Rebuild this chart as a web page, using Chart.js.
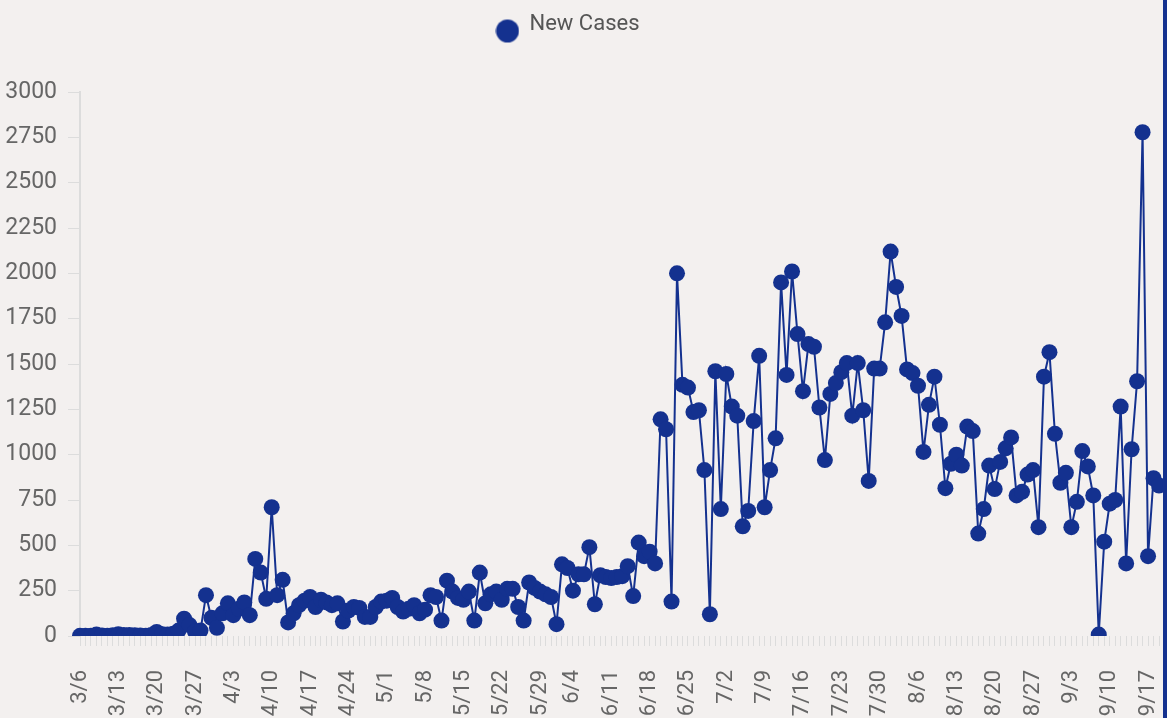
<!DOCTYPE html>
<html>
<head>
<meta charset="utf-8">
<title>New Cases</title>
<script src="https://cdn.jsdelivr.net/npm/chart.js@4.4.1/dist/chart.umd.min.js"></script>
<style>
  html, body { margin: 0; padding: 0; background: #f3f0ef; overflow: hidden; }
  #wrap { position: relative; width: 1167px; height: 718px; overflow: hidden; }
  #chart { position: absolute; left: 0; top: 0; }
  #edge { position: absolute; left: 1163px; top: 0; width: 4px; height: 718px; background: #14318f; }
</style>
</head>
<body>
<div id="wrap">
  <canvas id="chart" width="1167" height="760"></canvas>
  <div id="edge"></div>
</div>
<script>
// daily categories 3/6 .. 9/19
const startDay = Date.UTC(2020, 2, 6);
const dayCount = 198;
const dates = [];
for (let i = 0; i < dayCount; i++) {
  const d = new Date(startDay + i * 86400000);
  dates.push((d.getUTCMonth() + 1) + '/' + d.getUTCDate());
}

// the dates that get a label on the x axis
const tickLabels = [
  '3/6', '3/13', '3/20', '3/27', '4/3', '4/10', '4/17', '4/24', '5/1', '5/8',
  '5/15', '5/22', '5/29', '6/4', '6/11', '6/18', '6/25', '7/2', '7/9', '7/16',
  '7/23', '7/30', '8/6', '8/13', '8/20', '8/27', '9/3', '9/10', '9/17'
];

// new cases per day
const newCases = [
  1, 2, 1, 8, 3, 2, 4, 9, 6, 5, 4, 3, 2, 6, 22, 10, 8, 12, 30,
  95, 60, 25, 30, 225, 100, 45, 125, 180, 115, 150, 185, 115, 425, 350, 205, 710,
  225, 310, 75, 125, 170, 195, 215, 160, 200, 185, 170, 180, 80, 140, 160, 155,
  105, 105, 160, 190, 195, 210, 160, 135, 150, 170, 125, 145, 225, 215, 85, 305,
  245, 210, 200, 245, 85, 350, 180, 230, 245, 200, 260, 260, 160, 85, 295, 265,
  245, 230, 215, 65, 395, 375, 250, 340, 340, 490, 175, 335, 325, 320, 325, 330,
  385, 220, 515, 440, 465, 400, 1195, 1140, 190, 2000, 1385, 1370, 1235, 1245,
  915, 120, 1460, 700, 1445, 1265, 1215, 605, 690, 1185, 1545, 710, 915, 1090,
  1950, 1440, 2010, 1665, 1350, 1610, 1595, 1260, 970, 1335, 1395, 1455, 1505,
  1215, 1505, 1245, 855, 1475, 1475, 1730, 2120, 1925, 1765, 1470, 1450, 1380,
  1015, 1275, 1430, 1165, 815, 950, 1000, 940, 1155, 1130, 565, 700, 940, 810,
  960, 1035, 1095, 775, 795, 890, 915, 600, 1430, 1565, 1115, 845, 900, 600,
  740, 1020, 935, 775, 8, 520, 730, 750, 1265, 400, 1030, 1405, 2778, 440, 870, 830
];

const yTicks = [0, 250, 500, 750, 1000, 1250, 1500, 1750, 2000, 2250, 2500, 2750, 3000];

const blue = '#14318f';
const textGray = '#666666';
const lineGray = '#dcdcdc';

// legend marker: circle sitting a little lower than the text
function legendDot() {
  const c = document.createElement('canvas');
  c.width = 24;
  c.height = 43;
  const g = c.getContext('2d');
  g.fillStyle = blue;
  g.beginPath();
  g.arc(12, 28.5, 11.5, 0, Math.PI * 2);
  g.fill();
  return c;
}

const legendGap = {
  id: 'legendGap',
  beforeInit(chart) {
    const fit = chart.legend.fit;
    chart.legend.fit = function () {
      fit.bind(chart.legend)();
      this.height += 47;
    };
  },
  afterLayout(chart) {
    chart.legend.left -= 12;
    chart.legend.right -= 12;
  }
};

new Chart(document.getElementById('chart'), {
  type: 'line',
  data: {
    labels: dates,
    datasets: [{
      label: 'New Cases',
      data: newCases,
      borderColor: blue,
      backgroundColor: blue,
      borderWidth: 2,
      tension: 0,
      pointRadius: 8,
      pointBorderWidth: 0,
      pointBackgroundColor: blue
    }]
  },
  options: {
    responsive: false,
    devicePixelRatio: 1,
    animation: false,
    layout: { padding: { top: 3, left: 0, right: 7, bottom: 0 } },
    plugins: {
      legend: {
        display: true,
        position: 'top',
        labels: {
          usePointStyle: true,
          pointStyle: legendDot(),
          color: '#555555',
          font: { family: 'Roboto', size: 22 },
          padding: 10
        }
      },
      tooltip: { enabled: false }
    },
    scales: {
      x: {
        afterFit(scale) {
          scale.height = 124;
          scale.paddingLeft = 0;
          scale.paddingRight = 0;
        },
        grid: { display: true, drawOnChartArea: false, drawTicks: true, tickLength: 10, color: lineGray },
        border: { display: false },
        ticks: {
          autoSkip: false,
          maxRotation: 90,
          minRotation: 90,
          padding: 24,
          color: textGray,
          font: { family: 'Roboto', size: 22 },
          callback: function (value, index) {
            return tickLabels.includes(dates[index]) ? dates[index] : '';
          }
        }
      },
      y: {
        min: 0,
        max: 3000,
        afterFit(scale) { scale.width = 80; },
        afterBuildTicks(scale) { scale.ticks = yTicks.map(v => ({ value: v })); },
        grid: { display: true, drawOnChartArea: false, drawTicks: true, tickLength: 12, color: lineGray },
        border: { display: true, color: lineGray, width: 2 },
        ticks: {
          padding: 11,
          color: textGray,
          font: { family: 'Roboto', size: 23 },
          callback: function (value) { return String(value); }
        }
      }
    }
  },
  plugins: [legendGap]
});
</script>
</body>
</html>
